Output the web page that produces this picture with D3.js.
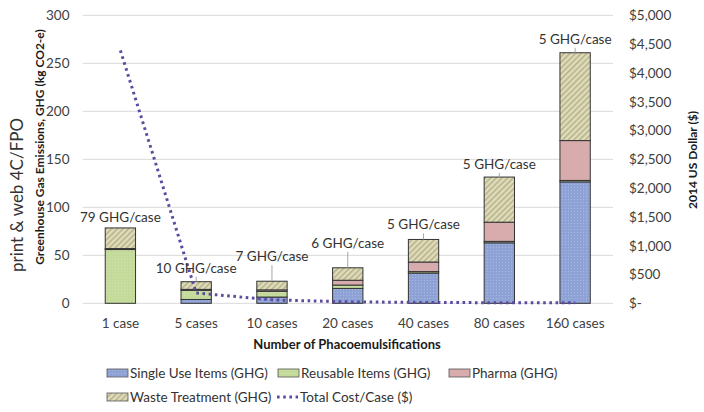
<!DOCTYPE html>
<html>
<head>
<meta charset="utf-8">
<script src="https://cdn.jsdelivr.net/npm/d3@7"></script>
<style>
  html, body { margin: 0; padding: 0; background: #fff; }
  svg { display: block; }
  text { font-family: Lato, "Open Sans", sans-serif; }
</style>
</head>
<body>
<svg id="chart" width="704" height="412"></svg>
<script>
// ---------- data ----------
const categories = ["1 case", "5 cases", "10 cases", "20 cases", "40 cases", "80 cases", "160 cases"];
const singleUse  = [0, 4, 6.5, 15.5, 31.5, 63, 126.5];
const reusable   = [56, 9.5, 6, 3.5, 1.5, 1.5, 1.5];
const pharma     = [1, 1, 1.5, 5, 10, 20, 41.5];
const waste      = [21.5, 8, 9, 13, 23.5, 47, 91.5];
const totalCost  = [4390, 180, 60, 25, 15, 10, 8];
const barLabels  = ["79 GHG/case", "10 GHG/case", "7 GHG/case", "6 GHG/case", "5 GHG/case", "5 GHG/case", "5 GHG/case"];
const leftTicks  = [0, 50, 100, 150, 200, 250, 300];
const rightTicks = [0, 500, 1000, 1500, 2000, 2500, 3000, 3500, 4000, 4500, 5000];
const seriesNames = ["Single Use Items (GHG)", "Reusable Items (GHG)", "Pharma (GHG)", "Waste Treatment (GHG)"];
const lineName = "Total Cost/Case ($)";

// ---------- layout ----------
const labelLift = [11, 14, 25, 25, 15, 13, 14];
const plot = { left: 82.5, right: 613, top: 15.3, bottom: 303.3 };

const svg = d3.select("#chart");
svg.append("rect").attr("width", 704).attr("height", 412).attr("fill", "#fff");

const defs = svg.append("defs");
// blue dotted texture
const pBlue = defs.append("pattern").attr("id", "pBlue").attr("patternUnits", "userSpaceOnUse")
  .attr("width", 3).attr("height", 3);
pBlue.append("rect").attr("width", 3).attr("height", 3).attr("fill", "#8ea2d6");
pBlue.append("rect").attr("x", 1).attr("y", 1).attr("width", 1).attr("height", 1).attr("fill", "#a9b9e2");
// green texture
const pGreen = defs.append("pattern").attr("id", "pGreen").attr("patternUnits", "userSpaceOnUse")
  .attr("width", 3).attr("height", 3);
pGreen.append("rect").attr("width", 3).attr("height", 3).attr("fill", "#c3da9b");
pGreen.append("rect").attr("x", 1).attr("y", 1).attr("width", 1).attr("height", 1).attr("fill", "#d0e3ae");
// waste hatch
const pWaste = defs.append("pattern").attr("id", "pWaste").attr("patternUnits", "userSpaceOnUse")
  .attr("width", 4).attr("height", 4).attr("patternTransform", "rotate(45)");
pWaste.append("rect").attr("width", 4).attr("height", 4).attr("fill", "#dfdcbb");
pWaste.append("rect").attr("x", 0).attr("y", 0).attr("width", 1.4).attr("height", 4).attr("fill", "#b3ae84");

const fills = ["url(#pBlue)", "url(#pGreen)", "#d8acad", "url(#pWaste)"];
const lineColor = "#5b4a9e";

// ---------- scales ----------
const x = d3.scaleBand().domain(categories).range([plot.left, plot.right]).paddingInner(0.6).paddingOuter(0.3);
const y = d3.scaleLinear().domain([0, 300]).range([plot.bottom, plot.top]);
const y2 = d3.scaleLinear().domain([0, 5000]).range([plot.bottom, plot.top]);

// gridlines
svg.append("g").selectAll("line").data(leftTicks).join("line")
  .attr("x1", plot.left).attr("x2", plot.right)
  .attr("y1", d => y(d)).attr("y2", d => y(d))
  .attr("stroke", "#d9d9d9").attr("stroke-width", 1);

// left axis
const leftAxis = svg.append("g").attr("transform", `translate(${plot.left},0)`)
  .call(d3.axisLeft(y).tickValues(leftTicks).tickSize(0).tickPadding(13));
leftAxis.select(".domain").remove();
leftAxis.selectAll("text").attr("font-size", 13.5).attr("fill", "#404040").style("font-family", "Lato, sans-serif");

// right axis
const rightAxis = svg.append("g").attr("transform", `translate(${plot.right},0)`)
  .call(d3.axisRight(y2).tickValues(rightTicks).tickSize(0).tickPadding(16)
    .tickFormat(d => d === 0 ? "$-" : "$" + d3.format(",")(d)));
rightAxis.select(".domain").remove();
rightAxis.selectAll("text").attr("font-size", 13.5).attr("fill", "#404040").style("font-family", "Lato, sans-serif");

// bottom axis (category labels)
const bottomAxis = svg.append("g").attr("transform", `translate(0,${plot.bottom})`)
  .call(d3.axisBottom(x).tickSize(0).tickPadding(15));
bottomAxis.select(".domain").remove();
bottomAxis.selectAll("text").attr("font-size", 13.5).attr("fill", "#404040").style("font-family", "Lato, sans-serif");

// ---------- stacked bars ----------
const rows = categories.map((c, i) => ({ cat: c, s0: singleUse[i], s1: reusable[i], s2: pharma[i], s3: waste[i] }));
const stack = d3.stack().keys(["s0", "s1", "s2", "s3"])(rows);
svg.append("g").selectAll("g").data(stack).join("g")
  .attr("fill", (d, i) => fills[i])
  .selectAll("rect").data(d => d.filter(p => p[1] - p[0] > 0)).join("rect")
  .attr("x", d => x(d.data.cat))
  .attr("width", x.bandwidth())
  .attr("y", d => y(d[1]))
  .attr("height", d => y(d[0]) - y(d[1]))
  .attr("stroke", "#333").attr("stroke-width", 1);

// ---------- cost line ----------
const line = d3.line().x((d, i) => x(categories[i]) + x.bandwidth() / 2).y(d => y2(d));
svg.append("path").datum(totalCost).attr("d", line)
  .attr("fill", "none").attr("stroke", lineColor).attr("stroke-width", 3)
  .attr("stroke-dasharray", "2.6,3.6");

// ---------- data labels ----------
const totals = rows.map(r => r.s0 + r.s1 + r.s2 + r.s3);
const lbl = svg.append("g");
categories.forEach((c, i) => {
  const cx = x(c) + x.bandwidth() / 2;
  const top = y(totals[i]);
  const ly = top - labelLift[i];
  lbl.append("text").attr("x", cx).attr("y", ly).attr("text-anchor", "middle")
    .attr("dominant-baseline", "central").attr("font-size", 13.5).attr("fill", "#333")
    .text(barLabels[i]);
  if (labelLift[i] > 12) {
    lbl.append("line").attr("x1", cx).attr("x2", cx).attr("y1", ly + 9).attr("y2", top)
      .attr("stroke", "#a6a6a6").attr("stroke-width", 1);
  }
});

// ---------- axis titles ----------
svg.append("text").attr("transform", "translate(39,147) rotate(-90)")
  .attr("text-anchor", "middle").attr("dominant-baseline", "central")
  .attr("font-size", 12).attr("font-weight", "bold").attr("fill", "#1a1a1a")
  .text("Greenhouse Gas Emissions, GHG (kg CO2-e)");
svg.append("text").attr("transform", "translate(16,195) rotate(-90)")
  .attr("text-anchor", "middle").attr("dominant-baseline", "central")
  .attr("font-size", 17).attr("fill", "#333")
  .text("print & web 4C/FPO");
svg.append("text").attr("transform", "translate(692,160) rotate(-90)")
  .attr("text-anchor", "middle").attr("dominant-baseline", "central")
  .attr("font-size", 12).attr("font-weight", "bold").attr("fill", "#1a1a1a")
  .text("2014 US Dollar ($)");
svg.append("text").attr("x", 347).attr("y", 344)
  .attr("text-anchor", "middle").attr("dominant-baseline", "central")
  .attr("font-size", 13).attr("font-weight", "bold").attr("fill", "#1a1a1a")
  .text("Number of Phacoemulsifications");

// ---------- legend ----------
const legendItems = [
  { name: seriesNames[0], fill: fills[0], x: 107, y: 373 },
  { name: seriesNames[1], fill: fills[1], x: 278, y: 373 },
  { name: seriesNames[2], fill: fills[2], x: 449, y: 373 },
  { name: seriesNames[3], fill: fills[3], x: 107, y: 397 },
  { name: lineName, line: true, x: 277, y: 397 }
];
const lg = svg.append("g");
legendItems.forEach(it => {
  if (it.line) {
    lg.append("line").attr("x1", it.x).attr("x2", it.x + 21).attr("y1", it.y).attr("y2", it.y)
      .attr("stroke", lineColor).attr("stroke-width", 3).attr("stroke-dasharray", "2.6,3.6");
  } else {
    lg.append("rect").attr("x", it.x).attr("y", it.y - 4).attr("width", 21).attr("height", 8)
      .attr("fill", it.fill).attr("stroke", "#555").attr("stroke-width", 0.8);
  }
  lg.append("text").attr("x", it.x + 23).attr("y", it.y).attr("dominant-baseline", "central")
    .attr("font-size", 13.5).attr("fill", "#333").text(it.name);
});
</script>
</body>
</html>
